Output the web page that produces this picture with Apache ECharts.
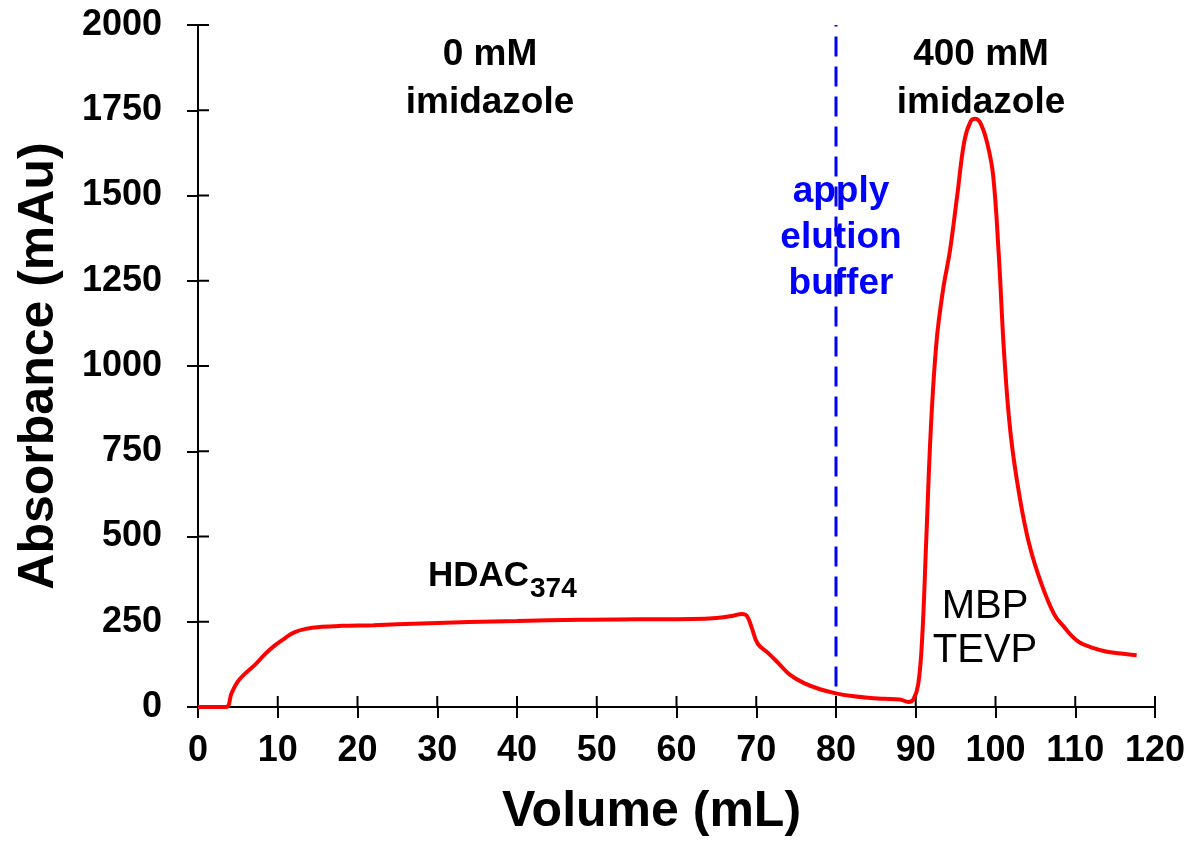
<!DOCTYPE html>
<html>
<head>
<meta charset="utf-8">
<script src="https://cdn.jsdelivr.net/npm/echarts@6/dist/echarts.min.js"></script>
<style>
  html, body { margin: 0; padding: 0; background: #fff; }
  #chart { width: 1201px; height: 844px; }
</style>
</head>
<body>
<div id="chart"></div>
<script>
// elution profile
const volume = [0, 3.5, 4.2, 5.0, 6.0, 7.2, 8.4, 9.6, 10.8, 12, 13.5, 15.5, 18, 22, 28, 34, 40, 48, 55, 62,
  65, 67, 68.2, 68.8, 69.4, 70.2, 71.5, 72.8, 74.2, 76, 78, 80, 82, 84, 86, 88, 89.1, 89.7, 90.3, 90.8,
  91.3, 91.9, 92.6, 93.4, 94.3, 95.2, 96.1, 96.9, 97.5, 98.2, 99.0, 99.7, 100.4, 101.1, 101.9, 103,
  104.2, 105.7, 107.4, 108.6, 109.5, 110.5, 112, 114, 116, 117.7];
const absorbance = [0, 0, 40, 75, 100, 125, 155, 180, 200, 218, 229, 235, 238, 240, 245, 249, 252, 256, 257, 258,
  261, 267, 273, 268, 235, 185, 158, 128, 95, 70, 52, 40, 32, 27, 24, 22, 15, 22, 65, 200,
  480, 820, 1070, 1220, 1340, 1500, 1660, 1718, 1725, 1708, 1650, 1560, 1330, 1030, 800, 620,
  480, 365, 270, 235, 210, 190, 175, 162, 156, 152];

const xTicks = [0, 10, 20, 30, 40, 50, 60, 70, 80, 90, 100, 110, 120];
const yTicks = [0, 250, 500, 750, 1000, 1250, 1500, 1750, 2000];

const elutionStart = 80;       // mL, where elution buffer was applied
const markerRange = [60, 2000];

const FONT = 'Arial, "Liberation Sans", sans-serif';
const TICK = 11;

const chart = echarts.init(document.getElementById('chart'));

const tickStyle = { show: true, inside: false, lineStyle: { color: '#000', width: 2 }, length: TICK };
const lineStyle = { show: true, onZero: false, lineStyle: { color: '#000', width: 2 } };
const labelStyle = { color: '#000', fontFamily: FONT, fontWeight: 'bold', fontSize: 36 };
const nameStyle = { color: '#000', fontFamily: FONT, fontWeight: 'bold', fontSize: 50 };

// inward half of the crossing ticks, drawn as thin rects
function innerTick(dir) {
  return function (params, api) {
    const p = api.coord([api.value(0), api.value(1)]);
    const shape = dir === 'x'
      ? { x: p[0] - 1, y: p[1] - TICK, width: 2, height: TICK }
      : { x: p[0], y: p[1] - 1, width: TICK, height: 2 };
    return { type: 'rect', shape: shape, style: { fill: '#000' } };
  };
}

chart.setOption({
  animation: false,
  grid: { left: 198, right: 46, top: 25, bottom: 137 },
  xAxis: {
    type: 'value', min: 0, max: 120, interval: 10,
    axisLine: lineStyle,
    axisTick: tickStyle,
    splitLine: { show: false },
    axisLabel: Object.assign({ margin: 26 }, labelStyle),
    name: 'Volume (mL)', nameLocation: 'middle', nameGap: 80,
    nameTextStyle: Object.assign({ padding: [0, 50, 0, 0] }, nameStyle)
  },
  yAxis: {
    type: 'value', min: 0, max: 2000, interval: 250,
    axisLine: lineStyle,
    axisTick: tickStyle,
    splitLine: { show: false },
    axisLabel: Object.assign({ margin: 36, formatter: v => String(v) }, labelStyle),
    name: 'Absorbance (mAu)', nameLocation: 'middle', nameGap: 134,
    nameTextStyle: nameStyle
  },
  series: [{
    type: 'custom',
    clip: false,
    data: xTicks.map(v => [v, 0]),
    renderItem: innerTick('x')
  }, {
    type: 'custom',
    clip: false,
    data: yTicks.map(v => [0, v]),
    renderItem: innerTick('y')
  }, {
    type: 'line',
    data: volume.map((v, i) => [v, absorbance[i]]),
    showSymbol: false,
    smooth: 0.4,
    lineStyle: { color: '#ff0000', width: 4 },
    z: 3
  }, {
    type: 'line',
    data: markerRange.map(a => [elutionStart, a]),
    showSymbol: false,
    lineStyle: { color: '#0000ff', width: 3, type: [20, 10] }
  }],
  graphic: [
    {
      type: 'text', x: 490, y: 31,
      style: { text: '0 mM\nimidazole', fill: '#000', font: 'bold 37px ' + FONT, align: 'center', lineHeight: 48 }
    },
    {
      type: 'text', x: 981, y: 31,
      style: { text: '400 mM\nimidazole', fill: '#000', font: 'bold 37px ' + FONT, align: 'center', lineHeight: 48 }
    },
    {
      type: 'text', x: 841, y: 169,
      style: { text: 'apply\nelution\nbuffer', fill: '#0000ff', font: 'bold 37px ' + FONT, align: 'center', lineHeight: 46 }
    },
    {
      type: 'text', x: 985, y: 585,
      style: { text: 'MBP\nTEVP', fill: '#000', font: '40px ' + FONT, align: 'center', lineHeight: 44 }
    },
    {
      type: 'text', x: 428, y: 594,
      style: { text: 'HDAC', fill: '#000', font: 'bold 35px ' + FONT, verticalAlign: 'bottom' }
    },
    {
      type: 'text', x: 530, y: 603,
      style: { text: '374', fill: '#000', font: 'bold 28px ' + FONT, verticalAlign: 'bottom' }
    }
  ]
});
</script>
</body>
</html>
